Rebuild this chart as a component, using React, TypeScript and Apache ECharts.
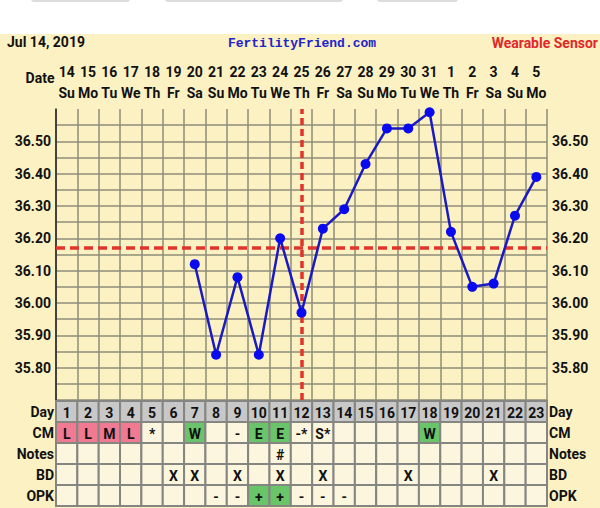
import React, { useEffect, useRef } from "react";
import * as echarts from "echarts";

const cycleDays = ["1","2","3","4","5","6","7","8","9","10","11","12","13","14","15","16","17","18","19","20","21","22","23"];
const dates = ["14","15","16","17","18","19","20","21","22","23","24","25","26","27","28","29","30","31","1","2","3","4","5"];
const weekdays = ["Su","Mo","Tu","We","Th","Fr","Sa","Su","Mo","Tu","We","Th","Fr","Sa","Su","Mo","Tu","We","Th","Fr","Sa","Su","Mo"];
const temps: (number | null)[] = [null, null, null, null, null, null, 36.12, 35.84, 36.08, 35.84, 36.20, 35.97, 36.23, 36.29, 36.43, 36.54, 36.54, 36.59, 36.22, 36.05, 36.06, 36.27, 36.39];
const coverline = 36.175;
const ovulationDay = "12";
const rowLabels = ["Day", "CM", "Notes", "BD", "OPK"];
const cm = ["L","L","M","L","*","","W","","-","E","E","-*","S*","","","","","W","","","","",""];
const notes = ["","","","","","","","","","","#","","","","","","","","","","","",""];
const bd = ["","","","","","X","X","","X","","X","","X","","","","X","","","","X","",""];
const opk = ["","","","","","","","-","-","+","+","-","-","-","","","","","","","","",""];

const YELLOW = "#FCF1C3";
const CELL = "#FDF6DF";
const PINK = "#F17A92";
const GREEN = "#6AC46A";
const GRAY = "#C8C8C8";
const GRID = "#8E8C78";

export default function App() {
  const ref = useRef<HTMLDivElement>(null);
  useEffect(() => {
    if (!ref.current) return;
    const chart = echarts.init(ref.current, null, { renderer: "svg" });
    const rows = [cycleDays, cm, notes, bd, opk];
    const cells: { c: number; r: number; text: string; fill: string }[] = [];
    rows.forEach((row, r) => {
      row.forEach((t, c) => {
        let fill = CELL;
        if (r === 0) fill = GRAY;
        else if (r === 1 && (t === "L" || t === "M")) fill = PINK;
        else if (r === 1 && (t === "W" || t === "E")) fill = GREEN;
        else if (r === 4 && t === "+") fill = GREEN;
        cells.push({ c, r, text: t, fill });
      });
    });
    const yLabel = (v: number) => {
      const r = Math.round(v * 100);
      if (r % 10 === 0 && r > 3570 && r < 3660) return (r / 100).toFixed(2);
      return "";
    };
    const font = "Roboto";
    chart.setOption({
      animation: false,
      backgroundColor: "transparent",
      textStyle: { fontFamily: font },
      graphic: [
        { type: "rect", shape: { x: 31, y: -4, width: 99, height: 6, r: 3 }, style: { fill: "#DCDCDC" } },
        { type: "rect", shape: { x: 165, y: -4, width: 178, height: 6, r: 3 }, style: { fill: "#DCDCDC" } },
        { type: "rect", shape: { x: 377, y: -4, width: 81, height: 6, r: 3 }, style: { fill: "#DCDCDC" } },
        { type: "text", left: 7, top: 35, style: { text: "Jul 14, 2019", font: `bold 14px ${font}`, fill: "#111" } },
        { type: "text", x: 302, y: 43, style: { text: "FertilityFriend.com", font: "bold 13px 'Liberation Mono'", fill: "#2323C8", align: "center", verticalAlign: "middle" } },
        { type: "text", x: 598, y: 43, style: { text: "Wearable Sensor", font: `bold 14px ${font}`, fill: "#E02828", align: "right", verticalAlign: "middle" } },
        { type: "text", x: 40, y: 78, style: { text: "Date", font: `bold 14px ${font}`, fill: "#111", align: "center", verticalAlign: "middle" } },
      ],
      grid: [
        { left: 56, top: 109, width: 491, height: 291, containLabel: false },
        { left: 56, top: 401, width: 491, height: 105, containLabel: false },
      ],
      xAxis: [
        {
          type: "category", gridIndex: 0, data: cycleDays, position: "top", boundaryGap: true,
          axisLine: { show: false }, axisTick: { show: false },
          axisLabel: {
            interval: 0, margin: 6,
            formatter: (_v: string, i: number) => `{d|${dates[i]}}\n{w|${weekdays[i]}}`,
            rich: {
              d: { fontFamily: font, fontWeight: "bold", fontSize: 14, color: "#111", lineHeight: 21 },
              w: { fontFamily: font, fontWeight: "bold", fontSize: 14, color: "#111", lineHeight: 21 },
            },
          },
          splitLine: { show: true, lineStyle: { color: GRID, width: 1.5 } },
        },
        { type: "category", gridIndex: 1, data: cycleDays, show: false },
      ],
      yAxis: [
        {
          type: "value", gridIndex: 0, min: 35.7, max: 36.6, interval: 0.05, position: "left",
          axisLine: { show: true, lineStyle: { color: "#222", width: 1.5 } }, axisTick: { show: false },
          axisLabel: { formatter: yLabel, fontFamily: font, fontWeight: "bold", fontSize: 14, color: "#111", margin: 5 },
          splitLine: { show: true, showMaxLine: false, lineStyle: { color: GRID, width: 1.5 } },
        },
        {
          type: "value", gridIndex: 0, min: 35.7, max: 36.6, interval: 0.05, position: "right",
          axisLine: { show: false }, axisTick: { show: false },
          axisLabel: { formatter: yLabel, fontFamily: font, fontWeight: "bold", fontSize: 14, color: "#111", margin: 5 },
          splitLine: { show: false },
        },
        {
          type: "category", gridIndex: 1, data: rowLabels, inverse: true, position: "left",
          axisLine: { show: false }, axisTick: { show: false },
          axisLabel: { fontFamily: font, fontWeight: "bold", fontSize: 14, color: "#111", margin: 2 },
          splitLine: { show: false },
        },
        {
          type: "category", gridIndex: 1, data: rowLabels, inverse: true, position: "right",
          axisLine: { show: false }, axisTick: { show: false },
          axisLabel: { fontFamily: font, fontWeight: "bold", fontSize: 14, color: "#111", margin: 2 },
          splitLine: { show: false },
        },
      ],
      series: [
        {
          type: "line", xAxisIndex: 0, yAxisIndex: 0, data: temps, connectNulls: false,
          symbol: "circle", symbolSize: 10,
          lineStyle: { color: "#1A1AC4", width: 2.5 },
          itemStyle: { color: "#0A0AEE" },
          z: 5,
          markLine: {
            silent: true, symbol: ["none", "none"], label: { show: false }, z: 3,
            data: [
              { yAxis: coverline, lineStyle: { color: "#E0352B", type: [9, 5], width: 3.5 } },
              { xAxis: ovulationDay, lineStyle: { color: "#E0352B", type: [7, 4], width: 3.5 } },
            ],
          },
        },
        {
          type: "custom", xAxisIndex: 1, yAxisIndex: 2,
          data: cells.map((c) => [c.c, c.r]),
          renderItem: (params: any, api: any) => {
            const cell = cells[params.dataIndex];
            const ctr = api.coord([api.value(0), api.value(1)]);
            const sz = api.size([1, 1]);
            return {
              type: "group",
              children: [
                { type: "rect", shape: { x: ctr[0] - sz[0] / 2, y: ctr[1] - sz[1] / 2, width: sz[0], height: sz[1] }, style: { fill: cell.fill, stroke: "#858581", lineWidth: 2 } },
                { type: "text", style: { text: cell.text, x: ctr[0], y: ctr[1] + 1, align: "center", verticalAlign: "middle", font: `bold 14px ${font}`, fill: "#111" } },
              ],
            };
          },
        },
      ],
    });
    return () => chart.dispose();
  }, []);
  return (
    <div style={{ position: "fixed", left: 0, top: 0, width: 600, height: 508, background: `linear-gradient(#ffffff 0px, #ffffff 34px, ${YELLOW} 34px)` }}>
      <div ref={ref} style={{ width: 600, height: 508 }} />
    </div>
  );
}
